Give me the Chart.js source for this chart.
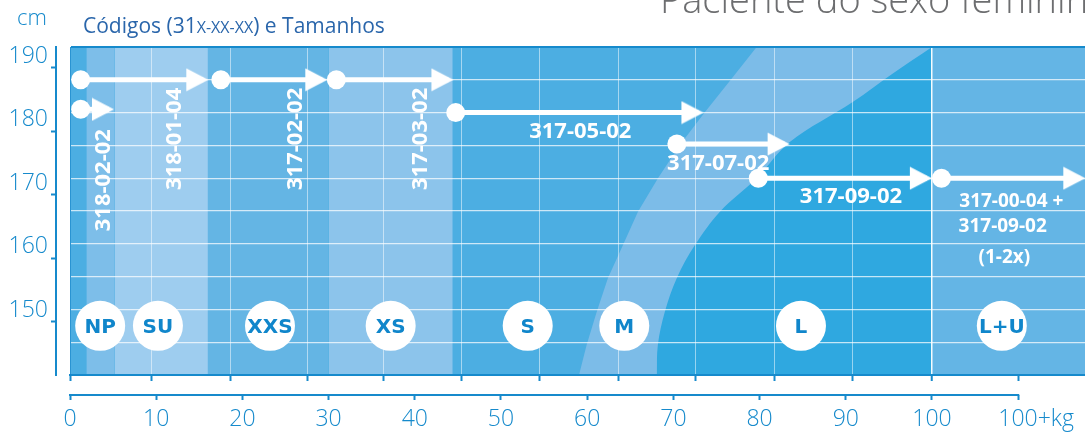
<!DOCTYPE html>
<html>
<head>
<meta charset="utf-8">
<script src="https://cdn.jsdelivr.net/npm/chart.js"></script>
<style>
html,body{margin:0;padding:0;background:#fff;}
canvas{display:block;}
</style>
</head>
<body>
<canvas id="chart" width="1085" height="437"></canvas>
<script>
// x = peso (kg), y = altura (cm)
const xMax = 117.75;
const gridKg = [0, 9.5, 18.6, 27.5, 36.4, 45.4, 54.5, 63.6, 72.6, 81.7, 90.8, 100, 110];
const gridCm = [140, 145, 150, 155, 160, 165, 170, 175, 180, 185, 190];
const kgTicks = [0, 10, 20, 30, 40, 50, 60, 70, 80, 90, 100, 110];
const kgLabels = ["0", "10", "20", "30", "40", "50", "60", "70", "80", "90", "100", "100+kg"];
const cmTicks = [150, 160, 170, 180, 190];

// faixas de tamanho (kg)
const bandFrom = [1.9, 5.2, 16.0, 30.0, 100];
const bandTo = [5.2, 16.0, 30.0, 44.4, xMax];

// curvas M / L
const mEdgeKg = [59.05, 59.94, 61.1, 62.41, 64.15, 65.89, 68.21, 70.77, 73.67, 76.77, 79.66, 100];
const mEdgeCm = [140, 144.6, 149.6, 154.8, 159.8, 164.9, 170, 175.1, 180.1, 185.2, 190, 190];
const lEdgeKg = [68.06, 68.2, 69.0, 70.4, 72.5, 75.4, 79.66, 83.5, 90.8, 95.5, 100];
const lEdgeCm = [140, 144.6, 149.6, 154.8, 159.8, 164.9, 170, 175.5, 181.6, 186.0, 190];

// setas
const arrowFrom = [1.24, 1.24, 17.5, 30.9, 44.75, 70.4, 79.85, 101.1];
const arrowTo = [15.46, 4.52, 29.27, 43.9, 72.9, 82.9, 99.4, 117.2];
const arrowCm = [185, 180.5, 185, 185, 180, 175.2, 170, 170];

// tamanhos
const sizeNames = ["NP", "SU", "XXS", "XS", "S", "M", "L", "L+U"];
const sizeKg = [3.5, 10.2, 23.2, 37.2, 53.1, 64.3, 84.8, 108.1];
const sizeCm = [147.5, 147.5, 147.5, 147.5, 147.5, 147.5, 147.5, 147.5];

// codigos
const bandCodes = ["318-02-02", "318-01-04", "317-02-02", "317-03-02"];
const bandCodeKg = [3.7, 12.0, 26.0, 40.5];
const bandCodeCm = [169.7, 176.0, 176.0, 176.0];
const arrowCodes = ["317-05-02", "317-07-02", "317-09-02"];
const arrowCodeKg = [59.2, 75.2, 90.6];
const arrowCodeCm = [177.4, 172.5, 167.4];
const comboCodes = ["317-00-04 +", "317-09-02", "(1-2x)"];
const comboKg = [109.2, 108.2, 108.4];
const comboCm = [166.7, 162.9, 158.1];

const blue = "#168acc";
const bandColors = ["#7dbee9", "#9ecdef", "#64b5e4", "#8cc4eb", "#64b5e5"];

function arrowHead(){
    let c = document.createElement("canvas");
    c.width = 36; c.height = 24;
    let g = c.getContext("2d");
    g.fillStyle = "#fff";
    g.beginPath();
    g.moveTo(1, 0.5); g.lineTo(23, 12); g.lineTo(1, 23.5);
    g.closePath(); g.fill();
    return c;
}
const head = arrowHead();

function area(data, color, order, extra){
    return Object.assign({
        data: data, backgroundColor: color, borderColor: "transparent",
        borderWidth: 0, pointRadius: 0, fill: "start", order: order
    }, extra || {});
}

let datasets = [];
datasets.push(area([{x:0, y:190}, {x:xMax, y:190}], "#4caee2", 30));
datasets.push(area(mEdgeKg.map((v,i)=>({x:v, y:mEdgeCm[i]})), "#7cbce8", 29));
datasets.push(area(lEdgeKg.map((v,i)=>({x:v, y:lEdgeCm[i]})), "#2fa8e0", 28, {tension: 0.35}));
bandFrom.forEach((f,i)=>{
    datasets.push(area([{x:f, y:190}, {x:bandTo[i], y:190}], bandColors[i], 20 - i));
});
arrowFrom.forEach((f,i)=>{
    datasets.push({
        data: [{x:f, y:arrowCm[i]}, {x:arrowTo[i], y:arrowCm[i]}],
        borderColor: "#fff", borderWidth: 5, borderCapStyle: "butt", fill: false,
        pointStyle: ["circle", head], pointRadius: [9.5, 10],
        pointBackgroundColor: "#fff", pointBorderWidth: 0, order: 2
    });
});
const badgeIndex = datasets.length;
datasets.push({
    data: sizeKg.map((v,i)=>({x:v, y:sizeCm[i]})),
    showLine: false, fill: false, pointRadius: 25, pointBackgroundColor: "#fff",
    pointBorderWidth: 0, order: 1
});

// meia altura de maiusculas
function capOffset(size, k){ return size * (k || 0.714) / 2; }

const labelsPlugin = {
    id: "labels",
    afterDatasetsDraw(chart){
        let ctx = chart.ctx;
        let x = chart.scales.x, y = chart.scales.y;
        ctx.save();
        ctx.textAlign = "center";
        ctx.textBaseline = "alphabetic";
        ctx.fillStyle = "#fff";

        ctx.font = "bold 22px 'Open Sans'";
        arrowCodes.forEach((t,i)=>{
            ctx.fillText(t, x.getPixelForValue(arrowCodeKg[i]), y.getPixelForValue(arrowCodeCm[i]) + capOffset(22));
        });
        bandCodes.forEach((t,i)=>{
            ctx.save();
            ctx.translate(x.getPixelForValue(bandCodeKg[i]), y.getPixelForValue(bandCodeCm[i]));
            ctx.rotate(-Math.PI/2);
            ctx.fillText(t, 0, capOffset(22));
            ctx.restore();
        });
        ctx.font = "bold 19px 'Open Sans'";
        comboCodes.forEach((t,i)=>{
            ctx.fillText(t, x.getPixelForValue(comboKg[i]), y.getPixelForValue(comboCm[i]) + capOffset(19));
        });

        // tamanhos
        ctx.fillStyle = "#1086cb";
        ctx.font = "bold 20px 'DejaVu Sans'";
        chart.getDatasetMeta(badgeIndex).data.forEach((p,i)=>{
            ctx.fillText(sizeNames[i], p.x, p.y + capOffset(20, 0.729));
        });
        ctx.restore();
    },
    afterDraw(chart){
        let ctx = chart.ctx;
        let x2 = chart.scales.x2;
        ctx.save();
        // linha do eixo de peso
        ctx.strokeStyle = blue;
        ctx.lineWidth = 2;
        ctx.beginPath();
        ctx.moveTo(x2.getPixelForValue(kgTicks[0]) - 1, x2.top);
        ctx.lineTo(x2.getPixelForValue(kgTicks[kgTicks.length-1]) + 1, x2.top);
        ctx.stroke();

        ctx.textBaseline = "alphabetic";
        ctx.fillStyle = "#6d6e70";
        ctx.font = "300 38px 'Open Sans'";
        ctx.textAlign = "left";
        ctx.fillText("Paciente do sexo feminino", 660, 13);

        ctx.fillStyle = blue;
        ctx.font = "300 22px 'Open Sans'";
        ctx.textAlign = "right";
        ctx.fillText("cm", 47, 25);

        ctx.fillStyle = "#2a66ab";
        ctx.textAlign = "left";
        let cx = 83;
        [["Códigos (31", 21], ["X-XX-XX", 16], [") e Tamanhos", 21]].forEach(p=>{
            ctx.font = p[1] + "px 'Open Sans'";
            ctx.fillText(p[0], cx, 33);
            cx += ctx.measureText(p[0]).width;
        });
        ctx.restore();
    }
};

new Chart(document.getElementById("chart"), {
    type: "line",
    data: { datasets: datasets },
    plugins: [labelsPlugin],
    options: {
        responsive: false,
        animation: false,
        events: [],
        layout: { autoPadding: false, padding: { top: 47, left: 0, right: 0, bottom: 0 } },
        plugins: {
            legend: { display: false },
            tooltip: { enabled: false },
            colors: { enabled: false },
            filler: { drawTime: "beforeDraw" }
        },
        scales: {
            x: {
                type: "linear", min: 0, max: xMax, position: "bottom", weight: 0,
                afterBuildTicks: s => { s.ticks = gridKg.map(v=>({value:v})); },
                afterFit: s => { s.height = 20; s.paddingLeft = 0; s.paddingRight = 0; },
                ticks: { display: false },
                grid: {
                    color: c => c.tick.value === 100 ? "rgba(255,255,255,0.95)" :
                        (c.tick.value === 0 || c.tick.value === 110 ? "rgba(0,0,0,0)" : "rgba(255,255,255,0.5)"),
                    lineWidth: c => c.tick.value === 100 ? 1.5 : 1,
                    tickLength: 6, tickColor: blue, tickWidth: 2
                },
                border: { color: blue, width: 2 }
            },
            x2: {
                type: "linear", min: 0, max: xMax, position: "bottom", weight: 1,
                afterBuildTicks: s => { s.ticks = kgTicks.map(v=>({value:v})); },
                afterFit: s => { s.height = 42; s.paddingLeft = 0; s.paddingRight = 0; },
                ticks: {
                    color: blue, padding: 6, maxRotation: 0, autoSkip: false,
                    font: { family: "Open Sans", size: 23, weight: "300" },
                    callback: (v,i) => i === kgLabels.length - 1 ? "      " + kgLabels[i] : kgLabels[i]
                },
                grid: { drawOnChartArea: false, tickLength: 5, tickColor: blue, tickWidth: 2 },
                border: { display: false }
            },
            y: {
                type: "linear", min: 140, max: 190, position: "left", weight: 0,
                afterBuildTicks: s => { s.ticks = gridCm.map(v=>({value:v})); },
                afterFit: s => { s.width = 14; s.paddingTop = 0; s.paddingBottom = 0; },
                ticks: { display: false },
                grid: {
                    drawTicks: false,
                    color: c => c.tick.value === 190 ? blue : (c.tick.value === 140 ? "rgba(0,0,0,0)" : "rgba(255,255,255,0.72)"),
                    lineWidth: c => c.tick.value === 190 ? 2 : 1.2
                },
                border: { color: "rgba(20,130,200,0.6)", width: 1 }
            },
            y2: {
                type: "linear", min: 141.65, max: 193.3, position: "left", weight: 1,
                afterBuildTicks: s => { s.ticks = cmTicks.map(v=>({value:v})); },
                afterFit: s => { s.width = 56; s.paddingTop = 0; s.paddingBottom = 0; },
                ticks: {
                    color: blue, padding: 3, labelOffset: -12,
                    font: { family: "Open Sans", size: 23, weight: "300" }
                },
                grid: { drawOnChartArea: false, tickLength: 5, tickColor: blue, tickWidth: 2 },
                border: { color: blue, width: 2 }
            }
        }
    }
});
</script>
</body>
</html>
